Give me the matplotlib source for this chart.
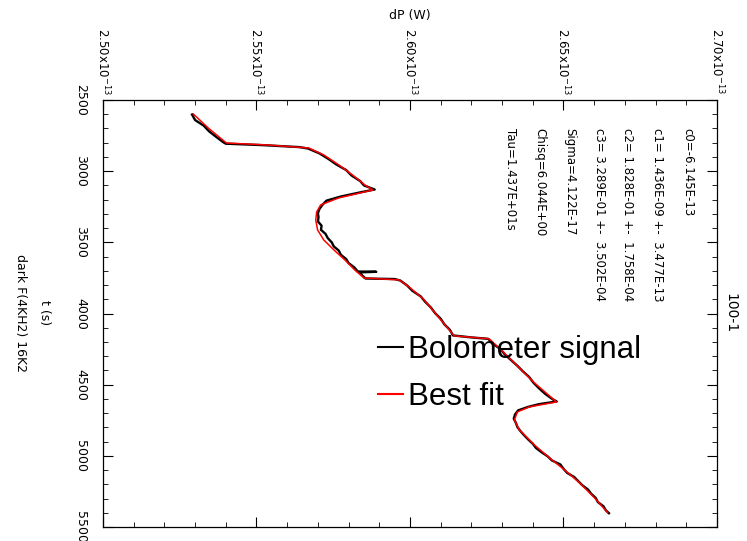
#!/usr/bin/env python
import numpy as np
import matplotlib

matplotlib.use("Agg")
import matplotlib.pyplot as plt
from matplotlib.lines import Line2D

# bolometer signal (time in s, dP in units of 1e-13 W)
t_sig = [2602, 2641, 2680, 2719, 2758, 2797, 2807, 2817, 2831, 2841, 2875, 2915,
         2953, 2992, 3031, 3070, 3100, 3129, 3148, 3178, 3207, 3236, 3266, 3295,
         3324, 3353, 3383, 3412, 3441, 3470, 3500, 3529, 3558, 3588, 3617, 3646,
         3675, 3705, 3707, 3711, 3734, 3754, 3758, 3768, 3802, 3841, 3880, 3919,
         3958, 3998, 4037, 4076, 4115, 4154, 4168, 4178, 4212, 4251, 4290, 4329,
         4368, 4407, 4446, 4486, 4525, 4564, 4603, 4618, 4637, 4656, 4681, 4710,
         4739, 4769, 4798, 4827, 4856, 4885, 4915, 4944, 4974, 5003, 5032, 5061,
         5091, 5120, 5149, 5178, 5208, 5237, 5266, 5296, 5325, 5354, 5383, 5403]
dp_sig = [2.5290, 2.5300, 2.5328, 2.5345, 2.5368, 2.5392, 2.5400, 2.5520, 2.5640,
          2.5668, 2.5705, 2.5735, 2.5760, 2.5792, 2.5810, 2.5838, 2.5850, 2.5885,
          2.5840, 2.5775, 2.5728, 2.5715, 2.5705, 2.5700, 2.5702, 2.5700, 2.5712,
          2.5710, 2.5725, 2.5732, 2.5745, 2.5752, 2.5768, 2.5775, 2.5792, 2.5800,
          2.5818, 2.5830, 2.5890, 2.5835, 2.5845, 2.5855, 2.5950, 2.5968, 2.5990,
          2.6008, 2.6035, 2.6050, 2.6068, 2.6082, 2.6100, 2.6112, 2.6130, 2.6140,
          2.6200, 2.6255, 2.6270, 2.6295, 2.6310, 2.6330, 2.6350, 2.6368, 2.6388,
          2.6402, 2.6420, 2.6440, 2.6465, 2.6478, 2.6420, 2.6385, 2.6352, 2.6342,
          2.6338, 2.6345, 2.6350, 2.6360, 2.6372, 2.6385, 2.6400, 2.6410, 2.6428,
          2.6448, 2.6462, 2.6490, 2.6500, 2.6512, 2.6535, 2.6548, 2.6562, 2.6580,
          2.6590, 2.6605, 2.6612, 2.6630, 2.6638, 2.6648]

# best fit
t_fit = [2598, 2697, 2802, 2816, 2837, 2886, 2956, 3034, 3097, 3132, 3188, 3237,
         3286, 3343, 3413, 3483, 3553, 3624, 3694, 3750, 3764, 3813, 3904, 4031,
         4157, 4178, 4277, 4382, 4487, 4621, 4656, 4691, 4747, 4817, 4923, 5014,
         5098, 5189, 5295, 5400]
dp_fit = [2.5294, 2.5343, 2.5402, 2.5533, 2.5670, 2.5719, 2.5768, 2.5817, 2.5853,
          2.5879, 2.5768, 2.5709, 2.5696, 2.5693, 2.5699, 2.5719, 2.5752, 2.5788,
          2.5820, 2.5850, 2.5964, 2.5997, 2.6046, 2.6095, 2.6144, 2.6258, 2.6307,
          2.6356, 2.6405, 2.6477, 2.6389, 2.6350, 2.6340, 2.6356, 2.6405, 2.6454,
          2.6503, 2.6552, 2.6601, 2.6644]

dp_ticks = [2.50, 2.55, 2.60, 2.65, 2.70]
t_ticks = [2500, 3000, 3500, 4000, 4500, 5000, 5500]

fit_info = [
    "c0=-6.145E-13",
    "c1= 1.436E-09 +-  3.477E-13",
    "c2= 1.828E-01 +-  1.758E-04",
    "c3= 3.289E-01 +-  3.502E-04",
    "Sigma=4.122E-17",
    "Chisq=6.044E+00",
    "Tau=1.437E+01s",
]
info_x = [688, 658, 628, 600, 570, 540, 510]

W, H = 747, 541
plt.rcParams["font.family"] = ["DejaVu Sans"]
fig = plt.figure(figsize=(W / 100, H / 100), dpi=100)
ax = fig.add_axes([103 / W, 1 - 527 / H, (717 - 103) / W, (527 - 100) / H])

ax.plot(np.array(dp_sig) * 1e-13, t_sig, color="k", lw=1.7)
ax.plot(np.array(dp_fit) * 1e-13, t_fit, color="red", lw=1.1)

ax.set_xlim(2.50e-13, 2.70e-13)
ax.set_ylim(5500, 2500)

ax.xaxis.tick_top()
ax.set_xticks([v * 1e-13 for v in dp_ticks])
ax.set_xticklabels(["%.2fx10$^{-13}$" % v for v in dp_ticks], rotation=-90, fontsize=8.5)
ax.set_xticks(np.arange(2.50, 2.701, 0.01) * 1e-13, minor=True)
ax.set_yticks(t_ticks)
ax.set_yticklabels([str(v) for v in t_ticks], rotation=-90, fontsize=9, va="center")
ax.set_yticks(np.arange(2500, 5501, 100), minor=True)
ax.tick_params(which="both", direction="in", top=True, bottom=True, left=True, right=True)
ax.tick_params(which="major", length=7)
ax.tick_params(which="minor", length=3.5)
ax.tick_params(axis="x", which="major", pad=4)
ax.tick_params(axis="y", which="major", pad=11.5)
for s in ax.spines.values():
    s.set_linewidth(0.9)


def ftext(x, y, s, **kw):
    kw.setdefault("rotation", -90)
    fig.text(x / W, 1 - y / H, s, **kw)


ftext(410, 15, "dP (W)", rotation=0, ha="center", va="center", fontsize=9)
ftext(45, 313, "t (s)", ha="center", va="center", fontsize=9)
ftext(20, 313, "dark F(4KH2) 16K2", ha="center", va="center", fontsize=9)
ftext(730, 313, "100-1", ha="center", va="center", fontsize=10)
for x, s in zip(info_x, fit_info):
    ftext(x, 128, s, ha="center", va="top", fontsize=8.5)

handles = [Line2D([], [], color="k", lw=1.5), Line2D([], [], color="red", lw=1.5)]
fig.legend(handles, ["Bolometer signal", "Best fit"], loc="upper left",
           bbox_to_anchor=(378 / W, 1 - 335 / H), frameon=False, borderpad=0,
           borderaxespad=0, handlelength=0.8, handletextpad=0.15,
           labelspacing=0.55, prop={"family": "Liberation Sans", "size": 22.5})

fig.savefig("out.png", dpi=100)
